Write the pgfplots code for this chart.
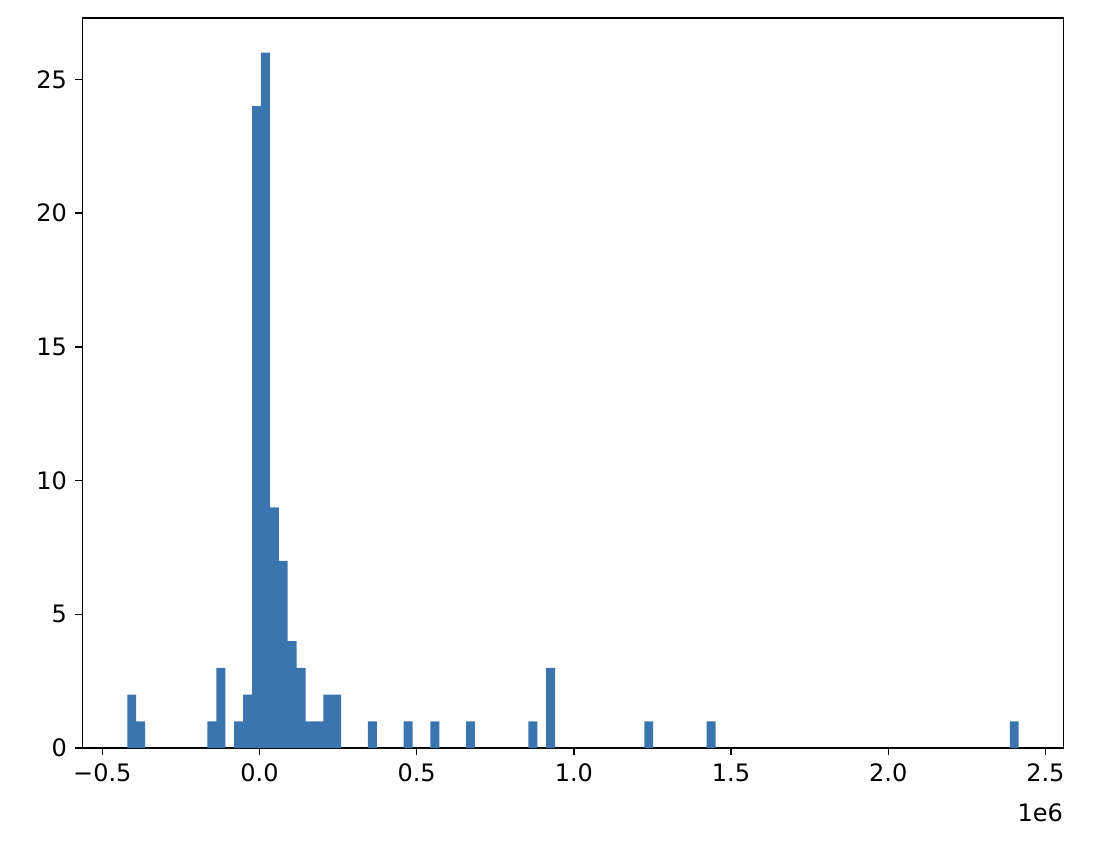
\documentclass[border=0pt]{standalone}
\usepackage{fontspec}
\setmainfont{DejaVu Sans}
\usepackage{pgfplots}
\pgfplotsset{compat=1.18}
\definecolor{barc}{RGB}{58,117,176}
\begin{document}
\begin{tikzpicture}
\path[use as bounding box] (-34.46pt,-45.8pt) rectangle (421.4pt,311.7pt);
\begin{axis}[at={(0,0)}, anchor=south west, scale only axis,
  width=408.6pt, height=304.2pt,
  xmin=-0.562275, xmax=2.556775, ymin=0, ymax=27.3,
  xtick={-0.5,0,0.5,1,1.5,2,2.5},
  xticklabels={−0.5,0.0,0.5,1.0,1.5,2.0,2.5},
  ytick={0,5,10,15,20,25},
  scaled x ticks=false,
  tick align=outside, xtick pos=bottom, ytick pos=left,
  major tick length=3pt,
  tick style={black, line width=0.6pt},
  axis line style={line width=0.6pt},
  /pgf/number format/assume math mode=true,
  ticklabel style={font=\fontsize{10}{12}\selectfont},
  clip=false,
]
\addplot[ybar interval, fill=barc, draw=none] coordinates {
(-0.420500,2) (-0.392145,1) (-0.363790,0)
(-0.165305,1) (-0.136950,3) (-0.108595,0)
(-0.080240,1) (-0.051885,2) (-0.023530,24) (0.004825,26) (0.033180,9)
(0.061535,7) (0.089890,4) (0.118245,3) (0.146600,1) (0.174955,1)
(0.203310,2) (0.231665,2) (0.260020,0)
(0.345085,1) (0.373440,0)
(0.458505,1) (0.486860,0)
(0.543570,1) (0.571925,0)
(0.656990,1) (0.685345,0)
(0.855475,1) (0.883830,0)
(0.912185,3) (0.940540,0)
(1.224090,1) (1.252445,0)
(1.422575,1) (1.450930,0)
(2.386645,1) (2.415000,0)
};
\node[anchor=north east, inner sep=0pt, font=\fontsize{10}{12}\selectfont] at (rel axis cs:1,0) [yshift=-22.9pt] {1e6};
\end{axis}
\end{tikzpicture}
\end{document}
